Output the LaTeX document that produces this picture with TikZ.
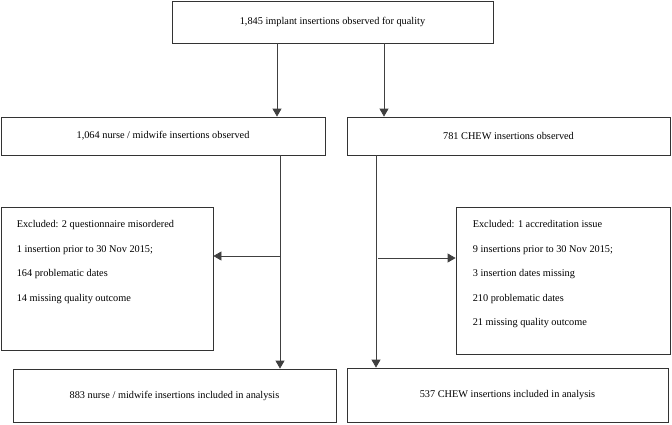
\documentclass[tikz,border=0pt]{standalone}
\usepackage{fontspec}
\setmainfont{Liberation Serif}
\usetikzlibrary{arrows.meta,positioning,calc}

\begin{document}
\begin{tikzpicture}[
    x=1pt, y=-1pt,
    box/.style={rectangle, draw=black!80, line width=0.8pt, inner sep=0pt, font=\fontsize{10.3}{12}\selectfont},
    listtext/.style={anchor=north west, inner sep=0pt, align=left, font=\fontsize{10.3}{24.5}\selectfont},
    arrow/.style={-{Triangle[length=8pt,width=9pt]}, draw=black!75, line width=0.8pt}
]
\useasboundingbox (0,0) rectangle (672,424);

% Total observed
\node[box, minimum width=321pt, minimum height=42pt] (total) at (332.5,22) {1,845 implant insertions observed for quality};

% Two cadres
\node[box, minimum width=324pt, minimum height=38pt] (nurse) at (163,136) {1,064 nurse / midwife insertions observed};
\node[box, minimum width=323pt, minimum height=38pt] (chew) at (508.5,136) {781 CHEW insertions observed};

% Exclusions
\node[box, minimum width=212pt, minimum height=143pt] (exclnurse) at (107,278.5) {};
\node[listtext] (exclnursetxt) at ($(exclnurse.north west)+(16,14)$) {Excluded: 2 questionnaire misordered\\
1 insertion prior to 30 Nov 2015;\\
164 problematic dates\\
14 missing quality outcome};

\node[box, minimum width=214pt, minimum height=147pt] (exclchew) at (563,280.5) {};
\node[listtext] (exclchewtxt) at ($(exclchew.north west)+(17,14)$) {Excluded: 1 accreditation issue\\
9 insertions prior to 30 Nov 2015;\\
3 insertion dates missing\\
210 problematic dates\\
21 missing quality outcome};

% Included in analysis
\node[box, minimum width=323pt, minimum height=53pt] (nursefinal) at (174.5,395.5) {883 nurse / midwife insertions included in analysis};
\node[box, minimum width=321pt, minimum height=54pt] (chewfinal) at (507.5,395) {537 CHEW insertions included in analysis};

% Arrows from total
\coordinate (splitl) at (277,0);
\coordinate (splitr) at (384,0);
\draw[arrow] (total.south -| splitl) -- (nurse.north -| splitl);
\draw[arrow] (total.south -| splitr) -- (chew.north -| splitr);

% Nurse branch
\coordinate (nursedrop) at (280,256);
\draw[arrow] (nurse.south -| nursedrop) -- (nursefinal.north -| nursedrop);
\draw[arrow] (nursedrop) -- (nursedrop -| exclnurse.east);

% CHEW branch
\coordinate (chewdrop) at (376,0);
\coordinate (chewbranch) at (378,258);
\draw[arrow] (chew.south -| chewdrop) -- (chewfinal.north -| chewdrop);
\draw[arrow] (chewbranch) -- (chewbranch -| exclchew.west);

\end{tikzpicture}
\end{document}
